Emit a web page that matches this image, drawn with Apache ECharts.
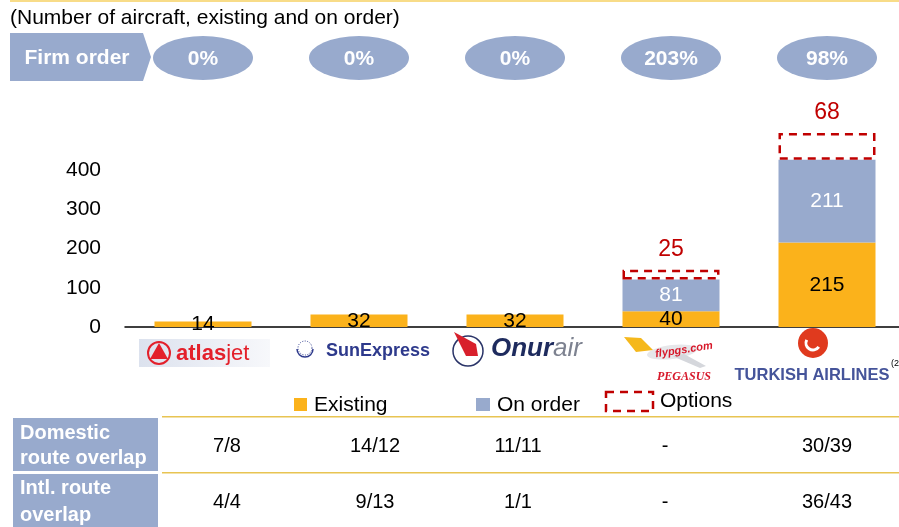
<!DOCTYPE html>
<html>
<head>
<meta charset="utf-8">
<script src="https://cdn.jsdelivr.net/npm/echarts/dist/echarts.min.js"></script>
<style>
  html, body { margin: 0; padding: 0; background: #fff; overflow: hidden; }
  #main { width: 906px; height: 527px; }
</style>
</head>
<body>
<div id="main"></div>
<script>
// data
const airlines = ['Atlasjet', 'SunExpress', 'Onurair', 'Pegasus', 'Turkish Airlines'];
const existing = [14, 32, 32, 40, 215];
const onOrder = ['-', '-', '-', 81, 211];
const options = ['-', '-', '-', 25, 68];
const firmOrder = ['0%', '0%', '0%', '203%', '98%'];
const yTicks = [0, 100, 200, 300, 400];
const domesticOverlap = ['7/8', '14/12', '11/11', '-', '30/39'];
const intlOverlap = ['4/4', '9/13', '1/1', '-', '36/43'];

const FONT = '"Liberation Sans", Arial, sans-serif';
const ORANGE = '#FBB21B';
const BLUE = '#98AACD';
const RED = '#C00000';

const chart = echarts.init(document.getElementById('main'));

chart.setOption({
  animation: false,
  textStyle: { fontFamily: FONT },
  grid: { left: 125, right: 1, top: 130.75, bottom: 200 },
  xAxis: {
    type: 'category',
    data: airlines,
    axisLine: { lineStyle: { color: '#000', width: 1.5 } },
    axisTick: { show: false },
    axisLabel: { show: false }
  },
  yAxis: {
    type: 'value',
    min: 0,
    max: 500,
    interval: 100,
    splitLine: { show: false },
    axisLine: { show: false },
    axisLabel: {
      fontSize: 21,
      color: '#000',
      margin: 24,
      formatter: v => (yTicks.includes(v) ? String(v) : '')
    }
  },
  series: [
    {
      name: 'Existing',
      type: 'bar',
      stack: 'fleet',
      barWidth: 97,
      data: existing,
      itemStyle: { color: ORANGE },
      label: { show: true, position: 'inside', color: '#000', fontSize: 21 }
    },
    {
      name: 'On order',
      type: 'bar',
      stack: 'fleet',
      data: onOrder,
      itemStyle: { color: BLUE },
      label: { show: true, position: 'inside', color: '#fff', fontSize: 21 }
    },
    {
      name: 'Options',
      type: 'bar',
      stack: 'fleet',
      data: options,
      itemStyle: {
        color: 'rgba(0,0,0,0)',
        borderColor: RED,
        borderWidth: 2.5,
        borderType: [8, 6]
      },
      label: { show: true, position: 'top', distance: 9, color: RED, fontSize: 23 }
    }
  ]
});

// header, logos, legend and table are drawn as graphics
const centers = airlines.map(a => chart.convertToPixel({ xAxisIndex: 0 }, a));
const g = [];

// top rule and subtitle
g.push({ type: 'rect', shape: { x: 10, y: 0, width: 889, height: 2 }, style: { fill: '#F8DC88' } });
g.push({ type: 'text', x: 10, y: 18, style: { text: '(Number of aircraft, existing and on order)', font: '21px ' + FONT, fill: '#000', verticalAlign: 'middle' } });

// firm order arrow
g.push({ type: 'polygon', shape: { points: [[10, 33], [143, 33], [151, 57], [143, 81], [10, 81]] }, style: { fill: BLUE } });
g.push({ type: 'text', x: 77, y: 58, style: { text: 'Firm order', font: 'bold 21px ' + FONT, fill: '#fff', align: 'center', verticalAlign: 'middle' } });

firmOrder.forEach((t, i) => {
  g.push({ type: 'circle', x: centers[i], y: 58, scaleX: 50 / 22, shape: { cx: 0, cy: 0, r: 22 }, style: { fill: BLUE } });
  g.push({ type: 'text', x: centers[i], y: 59, style: { text: t, font: 'bold 21px ' + FONT, fill: '#fff', align: 'center', verticalAlign: 'middle' } });
});

// logos (drawn as simple shapes + text)
// atlasjet
g.push({ type: 'rect', shape: { x: 139, y: 339, width: 131, height: 28 }, style: {
  fill: new echarts.graphic.LinearGradient(0, 0, 1, 0, [{ offset: 0, color: '#DCE2EE' }, { offset: 1, color: '#F7F8FB' }]) } });
g.push({ type: 'circle', shape: { cx: 159, cy: 353, r: 11 }, style: { fill: 'none', stroke: '#E3202B', lineWidth: 2 } });
g.push({ type: 'polygon', shape: { points: [[159, 343], [168, 359], [150, 359]] }, style: { fill: '#E3202B' } });
g.push({ type: 'text', x: 176, y: 354, style: {
  text: '{a|atlas}{b|jet}', verticalAlign: 'middle',
  rich: { a: { font: 'bold 22px ' + FONT, fill: '#E3202B' }, b: { font: '22px ' + FONT, fill: '#E3202B' } } } });
// SunExpress
g.push({ type: 'arc', shape: { cx: 305, cy: 349, r: 8, startAngle: 0, endAngle: Math.PI }, style: { fill: 'none', stroke: '#2E3A8C', lineWidth: 1.5 } });
g.push({ type: 'circle', shape: { cx: 305, cy: 348, r: 7 }, style: { fill: 'none', stroke: '#2E3A8C', lineWidth: 1, lineDash: [1, 1.5] } });
g.push({ type: 'text', x: 326, y: 351, style: { text: 'SunExpress', font: 'bold 18px ' + FONT, fill: '#2E3A8C', verticalAlign: 'middle' } });
// Onurair
g.push({ type: 'circle', shape: { cx: 468, cy: 351, r: 15 }, style: { fill: 'none', stroke: '#2A3468', lineWidth: 1.5 } });
g.push({ type: 'polygon', shape: { points: [[454, 332], [476, 344], [478, 356], [466, 356]] }, style: { fill: '#D8202C' } });
g.push({ type: 'text', x: 491, y: 349, style: {
  text: '{a|Onur}{b|air}', verticalAlign: 'middle',
  rich: { a: { font: 'italic bold 26px ' + FONT, fill: '#1E2B5E' }, b: { font: 'italic 26px ' + FONT, fill: '#7D8290' } } } });
// Pegasus
g.push({ type: 'circle', x: 672, y: 352, scaleX: 3.6, rotation: 0.12, shape: { cx: 0, cy: 0, r: 7 }, style: { fill: '#E6E7EA' } });
g.push({ type: 'polygon', shape: { points: [[624, 337], [641, 338], [653, 350], [636, 352]] }, style: { fill: '#F5B81C' } });
g.push({ type: 'polygon', shape: { points: [[672, 356], [700, 368], [706, 366], [684, 354]] }, style: { fill: '#D5D7DC' } });
g.push({ type: 'text', x: 684, y: 350, rotation: 0.15, style: { text: 'flypgs.com', font: 'italic bold 11px ' + FONT, fill: '#D7182A', align: 'center', verticalAlign: 'middle' } });
g.push({ type: 'text', x: 684, y: 377, style: { text: 'PEGASUS', font: 'italic bold 12px "Liberation Serif", serif', fill: '#D7182A', align: 'center', verticalAlign: 'middle' } });
// Turkish Airlines
g.push({ type: 'circle', shape: { cx: 813, cy: 343, r: 15 }, style: { fill: '#E03A1E' } });
g.push({ type: 'arc', shape: { cx: 813, cy: 343, r: 7, startAngle: 0.6, endAngle: 3.6 }, style: { fill: 'none', stroke: '#fff', lineWidth: 3 } });
g.push({ type: 'text', x: 812, y: 375, style: { text: 'TURKISH AIRLINES', font: 'bold 16.5px ' + FONT, fill: '#45549A', align: 'center', verticalAlign: 'middle' } });
g.push({ type: 'text', x: 891, y: 364, style: { text: '(2', font: '9px ' + FONT, fill: '#000', verticalAlign: 'middle' } });

// legend
g.push({ type: 'rect', shape: { x: 294, y: 398, width: 13, height: 13 }, style: { fill: ORANGE } });
g.push({ type: 'text', x: 314, y: 405, style: { text: 'Existing', font: '21px ' + FONT, fill: '#000', verticalAlign: 'middle' } });
g.push({ type: 'rect', shape: { x: 476, y: 398, width: 14, height: 13 }, style: { fill: BLUE } });
g.push({ type: 'text', x: 497, y: 405, style: { text: 'On order', font: '21px ' + FONT, fill: '#000', verticalAlign: 'middle' } });
g.push({ type: 'rect', shape: { x: 606, y: 392, width: 47, height: 19 }, style: { fill: 'none', stroke: RED, lineWidth: 2.5, lineDash: [8, 6] } });
g.push({ type: 'text', x: 660, y: 401, style: { text: 'Options', font: '21px ' + FONT, fill: '#000', verticalAlign: 'middle' } });

// table
const colX = [227, 375, 518, 665, 827];
g.push({ type: 'rect', shape: { x: 162, y: 416, width: 737, height: 1.5 }, style: { fill: '#E8C452' } });
g.push({ type: 'rect', shape: { x: 162, y: 472, width: 737, height: 1.5 }, style: { fill: '#E8C452' } });
g.push({ type: 'rect', shape: { x: 13, y: 418, width: 145, height: 53 }, style: { fill: BLUE } });
g.push({ type: 'rect', shape: { x: 13, y: 474, width: 145, height: 53 }, style: { fill: BLUE } });
g.push({ type: 'text', x: 20, y: 446, style: { text: 'Domestic\nroute overlap', font: 'bold 20px ' + FONT, fill: '#fff', verticalAlign: 'middle', lineHeight: 25 } });
g.push({ type: 'text', x: 20, y: 502, style: { text: 'Intl. route\noverlap', font: 'bold 20px ' + FONT, fill: '#fff', verticalAlign: 'middle', lineHeight: 27 } });
domesticOverlap.forEach((t, i) => {
  g.push({ type: 'text', x: colX[i], y: 446, style: { text: t, font: '20px ' + FONT, fill: '#000', align: 'center', verticalAlign: 'middle' } });
});
intlOverlap.forEach((t, i) => {
  g.push({ type: 'text', x: colX[i], y: 502, style: { text: t, font: '20px ' + FONT, fill: '#000', align: 'center', verticalAlign: 'middle' } });
});

chart.setOption({ graphic: g });
</script>
</body>
</html>
